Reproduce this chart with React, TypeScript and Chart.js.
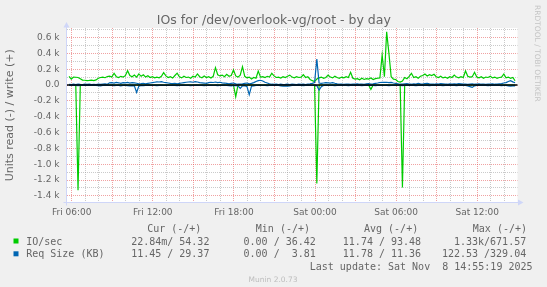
import React, { useEffect, useRef } from 'react';
import { Chart, registerables } from 'chart.js';

Chart.register(...registerables);

// ---------------- data ----------------
const TITLE = 'IOs for /dev/overlook-vg/root - by day';
const Y_AXIS_TITLE = 'Units read (-) / write (+)';
const WATERMARK = 'RRDTOOL / TOBI OETIKER';
const VERSION = 'Munin 2.0.73';
// hours counted from Fri 00:00
const FIRST_SAMPLE_HOUR = 5.8;
const SAMPLE_STEP_HOURS = 1 / 6;
const X_MIN = 5.65;
const X_MAX = 38.98;
const Y_MIN = -1485;
const Y_MAX = 720;

const X_LABEL_HOURS = [6, 12, 18, 24, 30, 36];
const X_LABELS = ['Fri 06:00', 'Fri 12:00', 'Fri 18:00', 'Sat 00:00', 'Sat 06:00', 'Sat 12:00'];
const Y_LABEL_VALUES = [-1400, -1200, -1000, -800, -600, -400, -200, 0, 200, 400, 600];
const Y_LABELS = ['-1.4 k', '-1.2 k', '-1.0 k', '-0.8 k', '-0.6 k', '-0.4 k', '-0.2 k', '0.0', '0.2 k', '0.4 k', '0.6 k'];

// IO/sec write (+)
const ioWrite = [
  110, 75, 100, 98, 95, 80, 62, 60, 55, 58,
  62, 55, 64, 85, 95, 100, 92, 108, 112, 100,
  148, 105, 95, 110, 100, 118, 181, 120, 105, 125,
  100, 140, 110, 130, 100, 118, 95, 105, 90, 100,
  92, 110, 156, 115, 95, 105, 88, 120, 150, 105,
  90, 112, 95, 100, 85, 110, 100, 140, 105, 92,
  115, 95, 105, 88, 110, 220, 130, 115, 125, 105,
  135, 110, 120, 190, 115, 100, 125, 232, 110, 90,
  100, 75, 95, 85, 177, 100, 105, 95, 110, 100,
  148, 115, 95, 100, 88, 105, 95, 110, 125, 100,
  90, 105, 95, 100, 130, 95, 105, 70, 55, 45,
  75, 90, 100, 85, 95, 125, 100, 90, 110, 95,
  85, 100, 90, 105, 95, 160, 85, 75, 80, 65,
  85, 70, 80, 75, 90, 70, 80, 85, 90, 380,
  105, 671, 400, 105, 75, 70, 45, 36, 50, 95,
  80, 110, 148, 95, 105, 85, 110, 120, 140, 115,
  130, 120, 135, 105, 95, 110, 90, 100, 85, 105,
  95, 125, 100, 90, 105, 95, 177, 110, 100, 105,
  160, 100, 90, 105, 85, 100, 95, 110, 90, 100,
  85, 95, 100, 139, 90, 100, 85, 95, 54,
];

// IO/sec read (-)
const ioRead = [
  0, 0, 0, 0, -1329, 0, 0, 0, 0, 0,
  0, 0, 0, 0, 0, 0, 0, 0, 0, 0,
  0, 0, 0, 0, 0, 0, 0, 0, 0, 0,
  0, 0, 0, 0, 0, 0, 0, 0, 0, 0,
  0, 0, 0, 0, 0, 0, 0, 0, 0, 0,
  0, 0, 0, 0, 0, 0, 0, 0, 0, 0,
  0, 0, 0, 0, 0, 0, 0, 0, 0, 0,
  0, 0, 0, 0, -150, 0, 0, 0, 0, 0,
  0, 0, 0, 0, 0, 0, 0, 0, 0, 0,
  0, 0, 0, 0, 0, 0, 0, 0, 0, 0,
  0, 0, 0, 0, 0, 0, 0, 0, 0, 0,
  -1245, 0, 0, 0, 0, 0, 0, 0, 0, 0,
  0, 0, 0, 0, 0, 0, 0, 0, 0, 0,
  0, 0, 0, 0, -55, 0, 0, 0, 0, 0,
  0, 0, 0, 0, 0, 0, 0, 0, -1295, 0,
  0, 0, 0, 0, 0, 0, 0, 0, 0, 0,
  0, 0, 0, 0, 0, 0, 0, 0, 0, 0,
  0, 0, 0, 0, 0, 0, 0, 0, 0, 0,
  0, 0, 0, 0, 0, 0, 0, 0, 0, 0,
  0, 0, 0, 0, 0, 0, 0, 0, 0,
];

// Req Size (KB) write (+)
const reqWrite = [
  8, 5, 10, 6, 12, 8, 5, 10, 7, 12,
  6, 9, 5, 10, 8, 12, 15, 10, 28, 30,
  25, 32, 28, 20, 30, 27, 32, 25, 30, 28,
  22, 15, 18, 22, 15, 20, 25, 30, 35, 40,
  38, 42, 35, 30, 25, 20, 18, 22, 15, 20,
  25, 30, 35, 38, 40, 35, 42, 38, 30, 28,
  25, 20, 30, 35, 32, 38, 30, 35, 28, 25,
  20, 15, 20, 25, 15, 10, 12, 15, 20, 25,
  15, 20, 30, 45, 55, 60, 50, 35, 25, 15,
  10, 8, 12, 6, 10, 5, 8, 12, 6, 10,
  8, 5, 12, 8, 10, 6, 12, 15, 20, 30,
  329, 25, 20, 25, 30, 28, 25, 30, 22, 15,
  10, 12, 8, 10, 12, 8, 10, 12, 15, 10,
  12, 8, 15, 18, 12, 15, 20, 25, 32, 35,
  34, 35, 30, 32, 25, 20, 15, 10, 12, 15,
  18, 12, 10, 15, 12, 20, 15, 12, 18, 20,
  15, 12, 10, 15, 12, 18, 15, 12, 10, 15,
  12, 15, 12, 18, 15, 12, 10, 8, 12, 15,
  10, 12, 15, 10, 12, 8, 10, 12, 15, 10,
  12, 15, 18, 25, 30, 45, 54, 40, 29,
];

// Req Size (KB) read (-)
const reqRead = [
  -5, -3, -6, -4, -8, -5, -3, -6, -4, -5,
  -6, -4, -5, -8, -10, -6, -5, -4, -6, -5,
  -8, -6, -5, -10, -6, -4, -8, -12, -8, -10,
  -93, -12, -8, -8, -6, -5, -4, -6, -5, -8,
  -5, -4, -6, -5, -3, -6, -4, -5, -8, -6,
  -5, -4, -6, -5, -8, -6, -5, -4, -6, -5,
  -8, -6, -5, -4, -6, -5, -8, -6, -5, -4,
  -6, -8, -10, -6, -8, -10, -42, -10, -8, -20,
  -122, -15, -10, -6, -5, -4, -6, -5, -8, -6,
  -5, -4, -6, -5, -10, -15, -12, -15, -10, -6,
  -5, -4, -6, -5, -8, -6, -5, -4, -6, -5,
  -8, -63, -20, -6, -5, -4, -6, -5, -8, -6,
  -5, -4, -6, -5, -8, -6, -5, -4, -6, -5,
  -8, -6, -5, -4, -6, -5, -8, -6, -5, -4,
  -6, -5, -8, -6, -5, -4, -6, -5, -8, -6,
  -5, -4, -6, -5, -8, -6, -5, -4, -6, -5,
  -8, -6, -5, -4, -6, -5, -8, -6, -5, -4,
  -6, -5, -8, -6, -5, -4, -6, -12, -20, -30,
  -10, -6, -5, -4, -6, -5, -8, -6, -5, -4,
  -6, -5, -8, -6, -5, -10, -15, -12, -11,
];

const SERIES_NAMES = ['IO/sec', 'Req Size (KB)'];
const STAT_HEADERS = ['Cur (-/+)', 'Min (-/+)', 'Avg (-/+)', 'Max (-/+)'];
const ioStats = ['22.84m/ 54.32', '0.00 / 36.42', '11.74 / 93.48', '1.33k/671.57'];
const reqStats = ['11.45 / 29.37', '0.00 /  3.81', '11.78 / 11.36', '122.53 /329.04'];
const LAST_UPDATE = 'Last update: Sat Nov  8 14:55:19 2025';

// ---------------- style ----------------
const GREEN = '#00cc00';
const BLUE = '#0066b3';
const FONT_COLOR = '#666666';
const AXIS_COLOR = '#cfd6f8';
const MAJOR_GRID = 'rgba(225,70,70,0.5)';
const MINOR_GRID = 'rgba(150,150,150,0.5)';
const SANS = "'DejaVu Sans'";
const MONO = "'DejaVu Sans Mono'";

const HEADER_X = [147.2, 255.8, 364, 472.8];
const STAT_RIGHT_X = [209.4, 315.8, 421.1, 526.2];

const toPoints = (arr: number[]) =>
  arr.map((v, i) => ({ x: FIRST_SAMPLE_HOUR + i * SAMPLE_STEP_HOURS, y: v }));

const isMult = (v: number, m: number) => Math.abs(v / m - Math.round(v / m)) < 1e-6;

// replace the library's ticks by every multiple of `step` inside the axis range
const gridTicks = (step: number) => (axis: any) => {
  const out: { value: number }[] = [];
  const first = Math.ceil(axis.min / step - 1e-9);
  const last = Math.floor(axis.max / step + 1e-9);
  for (let k = first; k <= last; k++) out.push({ value: k * step });
  axis.ticks = out;
};

const muninPlugin = {
  id: 'muninDecor',
  beforeDraw(chart: any) {
    const { ctx, chartArea: a } = chart;
    ctx.save();
    ctx.fillStyle = '#f0f0f0';
    ctx.fillRect(0, 0, chart.width, chart.height);
    ctx.fillStyle = '#ffffff';
    ctx.fillRect(a.left, a.top, a.right - a.left, a.bottom - a.top);
    ctx.restore();
  },
  afterDatasetsDraw(chart: any) {
    const { ctx, chartArea: a } = chart;
    const y0 = chart.scales.y.getPixelForValue(0);
    ctx.save();
    ctx.strokeStyle = '#000000';
    ctx.lineWidth = 1.6;
    ctx.beginPath();
    ctx.moveTo(a.left, y0);
    ctx.lineTo(a.right, y0);
    ctx.stroke();
    ctx.restore();
  },
  afterDraw(chart: any) {
    const { ctx, chartArea: a } = chart;
    ctx.save();
    // axes with arrows
    const ax = Math.floor(a.left) - 0.5;
    const ay = Math.floor(a.bottom) + 0.5;
    ctx.strokeStyle = AXIS_COLOR;
    ctx.fillStyle = AXIS_COLOR;
    ctx.lineWidth = 1;
    ctx.beginPath();
    ctx.moveTo(ax, ay + 3);
    ctx.lineTo(ax, a.top - 1);
    ctx.moveTo(ax - 3, ay);
    ctx.lineTo(a.right + 1, ay);
    ctx.stroke();
    ctx.beginPath();
    ctx.moveTo(ax, a.top - 6);
    ctx.lineTo(ax - 3, a.top - 0.5);
    ctx.lineTo(ax + 3, a.top - 0.5);
    ctx.closePath();
    ctx.fill();
    ctx.beginPath();
    ctx.moveTo(a.right + 6, ay);
    ctx.lineTo(a.right + 0.5, ay - 3);
    ctx.lineTo(a.right + 0.5, ay + 3);
    ctx.closePath();
    ctx.fill();

    // title
    ctx.fillStyle = FONT_COLOR;
    ctx.font = `12.5px ${SANS}`;
    ctx.textAlign = 'center';
    ctx.textBaseline = 'alphabetic';
    ctx.fillText(TITLE, 273.8, 24);

    // y axis title
    ctx.save();
    ctx.translate(10.5, (a.top + a.bottom) / 2);
    ctx.rotate(-Math.PI / 2);
    ctx.font = `11px ${SANS}`;
    ctx.textAlign = 'center';
    ctx.textBaseline = 'middle';
    ctx.fillText(Y_AXIS_TITLE, 0, 0);
    ctx.restore();

    // watermark
    ctx.save();
    ctx.translate(537.3, 5);
    ctx.rotate(Math.PI / 2);
    ctx.font = `7.5px ${SANS}`;
    ctx.fillStyle = '#c4c4c4';
    ctx.textAlign = 'left';
    ctx.textBaseline = 'middle';
    ctx.fillText(WATERMARK, 0, 0);
    ctx.restore();

    // legend
    ctx.font = `10px ${MONO}`;
    ctx.fillStyle = FONT_COLOR;
    ctx.textBaseline = 'alphabetic';
    ctx.textAlign = 'left';
    STAT_HEADERS.forEach((h, i) => ctx.fillText(h, HEADER_X[i], 231.5));
    const rows = [
      { name: SERIES_NAMES[0], color: GREEN, stats: ioStats, y: 244.5 },
      { name: SERIES_NAMES[1], color: BLUE, stats: reqStats, y: 257.3 },
    ];
    rows.forEach((r) => {
      ctx.fillStyle = r.color;
      ctx.fillRect(13.5, r.y - 6, 5, 5);
      ctx.fillStyle = FONT_COLOR;
      ctx.textAlign = 'left';
      ctx.fillText(r.name, 26.2, r.y);
      ctx.textAlign = 'right';
      r.stats.forEach((s, i) => ctx.fillText(s, STAT_RIGHT_X[i], r.y));
    });
    ctx.textAlign = 'right';
    ctx.fillText(LAST_UPDATE, 532.5, 270);

    // version
    ctx.font = `7.5px ${SANS}`;
    ctx.fillStyle = '#bdbdbd';
    ctx.textAlign = 'center';
    ctx.fillText(VERSION, 273, 282);
    ctx.restore();
  },
};

export default function App() {
  const ref = useRef<HTMLCanvasElement>(null);
  useEffect(() => {
    const canvas = ref.current;
    if (!canvas) return;
    const lineDs = (data: number[], color: string) => ({
      data: toPoints(data),
      borderColor: color,
      backgroundColor: color,
      borderWidth: 1.2,
      pointRadius: 0,
      tension: 0,
      fill: false,
    });
    const chart = new Chart(canvas, {
      type: 'line',
      data: {
        datasets: [
          lineDs(reqWrite, BLUE),
          lineDs(reqRead, BLUE),
          lineDs(ioWrite, GREEN),
          lineDs(ioRead, GREEN),
        ],
      },
      options: {
        animation: false,
        responsive: false,
        devicePixelRatio: 1,
        events: [],
        layout: { padding: { left: 0, top: 28, right: 29.5, bottom: 64.4 } },
        plugins: {
          legend: { display: false },
          tooltip: { enabled: false },
          title: { display: false },
        },
        scales: {
          x: {
            type: 'linear',
            min: X_MIN,
            max: X_MAX,
            afterBuildTicks: gridTicks(1),
            afterFit: (s: any) => {
              s.height = 20;
            },
            ticks: {
              autoSkip: false,
              maxRotation: 0,
              minRotation: 0,
              padding: 5,
              color: FONT_COLOR,
              font: { family: 'DejaVu Sans', size: 9 },
              callback: (value: any) => {
                const k = X_LABEL_HOURS.findIndex((h) => Math.abs(h - Number(value)) < 1e-6);
                return k >= 0 ? X_LABELS[k] : '';
              },
            },
            grid: {
              drawTicks: false,
              lineWidth: 1,
              color: (c: any) =>
                c.tick && isMult(c.tick.value, 3) ? MAJOR_GRID : MINOR_GRID,
            },
            border: { display: false, dash: [1, 1] },
          },
          y: {
            type: 'linear',
            min: Y_MIN,
            max: Y_MAX,
            afterBuildTicks: gridTicks(100),
            afterFit: (s: any) => {
              s.width = 67;
            },
            ticks: {
              autoSkip: false,
              padding: 7.5,
              color: FONT_COLOR,
              font: { family: 'DejaVu Sans', size: 9 },
              callback: (value: any) => {
                const k = Y_LABEL_VALUES.findIndex((h) => Math.abs(h - Number(value)) < 1e-6);
                return k >= 0 ? Y_LABELS[k] : '';
              },
            },
            grid: {
              drawTicks: false,
              lineWidth: 1,
              color: (c: any) =>
                c.tick && isMult(c.tick.value, 200) ? MAJOR_GRID : MINOR_GRID,
            },
            border: { display: false, dash: [1, 1] },
          },
        },
      },
      plugins: [muninPlugin],
    } as any);
    return () => chart.destroy();
  }, []);
  return (
    <div
      style={{
        position: 'fixed',
        left: 0,
        top: 0,
        width: 547,
        height: 287,
        background: '#f0f0f0',
      }}
    >
      <canvas ref={ref} width={547} height={287} style={{ display: 'block', width: 547, height: 287 }} />
    </div>
  );
}
